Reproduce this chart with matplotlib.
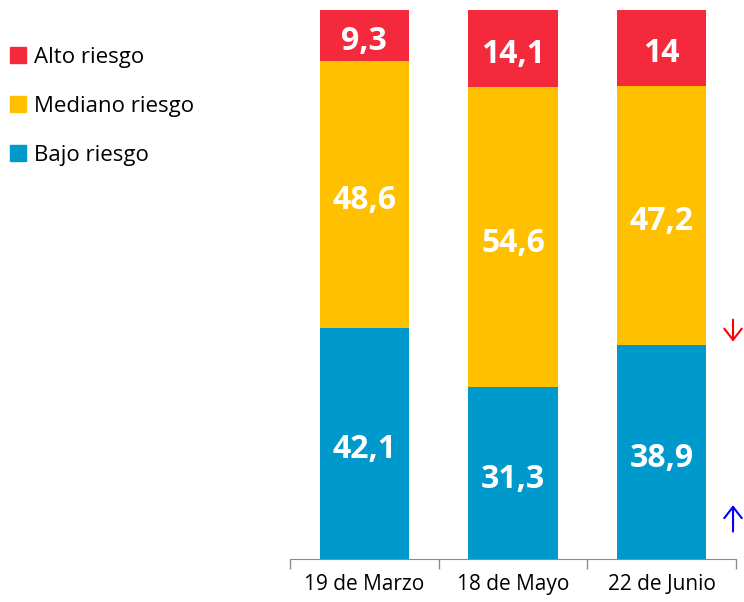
import matplotlib.pyplot as plt
from matplotlib.lines import Line2D

# Porcentaje de riesgo por fecha de medición
fechas = ["19 de Marzo", "18 de Mayo", "22 de Junio"]
bajo = [42.1, 31.3, 38.9]
mediano = [48.6, 54.6, 47.2]
alto = [9.3, 14.1, 14]
etiquetas = ["Alto riesgo", "Mediano riesgo", "Bajo riesgo"]

rojo = '#F42A3C'
amarillo = '#FFC000'
azul = '#0099CC'

plt.rcParams['font.family'] = ['Open Sans', 'DejaVu Sans']

fig = plt.figure(figsize=(7.44, 6.02), dpi=100)
ax = fig.add_axes([290/744, 43/602, 446/744, 549/602])

x = range(len(fechas))
base2 = [b + m for b, m in zip(bajo, mediano)]
ax.bar(x, bajo, width=0.6, color=azul)
ax.bar(x, mediano, width=0.6, bottom=bajo, color=amarillo)
ax.bar(x, alto, width=0.6, bottom=base2, color=rojo)

# valores dentro de las barras (un poco más abajo del centro, como el original)
for i in x:
    for val, fondo in [(bajo[i], 0), (mediano[i], bajo[i]), (alto[i], base2[i])]:
        txt = f"{val:g}".replace('.', ',')
        ax.text(i, fondo + val / 2 - 1.1, txt, ha='center', va='center',
                color='white', fontsize=23, fontweight='bold')

ax.set_xlim(-0.5, 2.5)
ax.set_ylim(0, 100)
ax.set_yticks([])
for s in ['top', 'right', 'left']:
    ax.spines[s].set_visible(False)
ax.spines['bottom'].set_color('#8c8c8c')
ax.set_xticks(list(x))
ax.set_xticklabels(fechas, fontsize=15)
ax.tick_params(axis='x', which='major', length=0, pad=11)
ax.set_xticks([-0.5, 0.5, 1.5, 2.5], minor=True)
ax.tick_params(axis='x', which='minor', length=7, color='#8c8c8c', width=1)

# flechas de tendencia
flecha = '->,head_length=0.45,head_width=0.35'
ax.annotate('', xy=(2.48, 39.6), xytext=(2.48, 43.6), xycoords='data',
            arrowprops=dict(arrowstyle=flecha, color='red', lw=1.5,
                            mutation_scale=18, shrinkA=0, shrinkB=0),
            annotation_clip=False)
ax.annotate('', xy=(2.48, 9.8), xytext=(2.48, 5.0), xycoords='data',
            arrowprops=dict(arrowstyle=flecha, color='blue', lw=1.5,
                            mutation_scale=18, shrinkA=0, shrinkB=0),
            annotation_clip=False)

handles = [Line2D([], [], marker='s', linestyle='', markersize=11, color=c)
           for c in [rojo, amarillo, azul]]
fig.legend(handles, etiquetas, loc='upper left', bbox_to_anchor=(-0.014, 0.955),
           frameon=False, fontsize=16, handlelength=0.8, handletextpad=0.3,
           labelspacing=1.25)

fig.savefig('out.png', dpi=100)
